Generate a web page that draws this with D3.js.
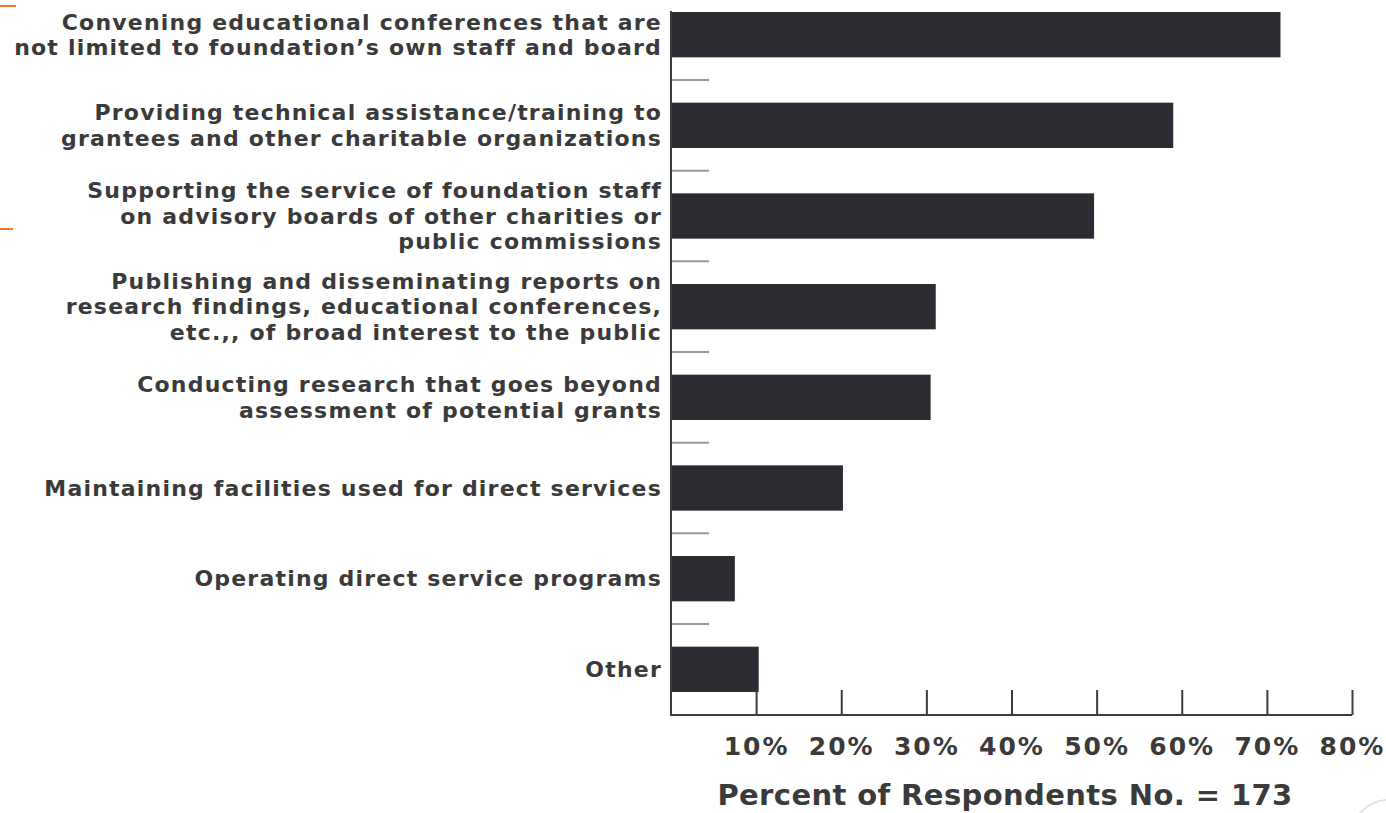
<!DOCTYPE html>
<html>
<head>
<meta charset="utf-8">
<script src="https://cdn.jsdelivr.net/npm/d3@7"></script>
<style>
  body { margin: 0; background: #fff; }
  svg { display: block; font-family: 'DejaVu Sans', sans-serif; }
</style>
</head>
<body>
<svg width="1386" height="813"></svg>
<script>
// categories, top to bottom (each entry = lines of the label)
const categories = [
    ['Convening educational conferences that are', 'not limited to foundation\u2019s own staff and board'],
    ['Providing technical assistance/training to', 'grantees and other charitable organizations'],
    ['Supporting the service of foundation staff', 'on advisory boards of other charities or', 'public commissions'],
    ['Publishing and disseminating reports on', 'research findings, educational conferences,', 'etc.,, of broad interest to the public'],
    ['Conducting research that goes beyond', 'assessment of potential grants'],
    ['Maintaining facilities used for direct services'],
    ['Operating direct service programs'],
    ['Other']
];
const values = [71.6, 59, 49.7, 31.1, 30.5, 20.2, 7.5, 10.3];
const tickValues = [10, 20, 30, 40, 50, 60, 70, 80];
const axisTitle = 'Percent of Respondents No. = 173';

const svg = d3.select('svg');

const x = d3.scaleLinear().domain([0, 80]).range([671, 1352]);
const y = d3.scaleBand()
    .domain(d3.range(categories.length))
    .range([12, 692])
    .paddingInner(0.5)
    .paddingOuter(0);

// decorative slide bits
svg.append('line').attr('x1', 0).attr('x2', 16).attr('y1', 6).attr('y2', 6)
    .attr('stroke', '#f07a2a').attr('stroke-width', 2);
svg.append('line').attr('x1', 0).attr('x2', 13).attr('y1', 229).attr('y2', 229)
    .attr('stroke', '#f07a2a').attr('stroke-width', 2);
svg.append('circle').attr('cx', 1388).attr('cy', 836).attr('r', 36)
    .attr('fill', 'none').attr('stroke', '#e4e4e4').attr('stroke-width', 2);

// bars
svg.selectAll('.bar')
    .data(values)
    .join('rect')
    .classed('bar', true)
    .attr('x', x(0))
    .attr('y', (d, i) => y(i))
    .attr('width', d => x(d) - x(0))
    .attr('height', y.bandwidth())
    .attr('fill', '#2b2d32');

// small separators between bars
svg.selectAll('.sep')
    .data(d3.range(1, categories.length))
    .join('line')
    .classed('sep', true)
    .attr('x1', x(0)).attr('x2', x(0) + 38)
    .attr('y1', i => y(i) - y.step() * y.paddingInner() / 2)
    .attr('y2', i => y(i) - y.step() * y.paddingInner() / 2)
    .attr('stroke', '#9a9a9a').attr('stroke-width', 2);

// y axis line
svg.append('line')
    .attr('x1', x(0)).attr('x2', x(0))
    .attr('y1', 11).attr('y2', 716)
    .attr('stroke', '#3c3c3c').attr('stroke-width', 2);

// x axis: ticks point up, labels below
const xAxis = svg.append('g')
    .attr('transform', 'translate(0,715)')
    .call(d3.axisTop(x).tickValues(tickValues).tickSize(25).tickSizeOuter(0).tickFormat(d => d + '%'));
xAxis.select('.domain').attr('stroke', '#3c3c3c').attr('stroke-width', 2)
    .attr('d', `M${x(0)},0H${x(80)}`);
xAxis.selectAll('.tick line').attr('stroke', '#3c3c3c').attr('stroke-width', 2);
xAxis.selectAll('.tick text')
    .attr('y', 40)
    .attr('dy', 0)
    .attr('fill', '#3a3a3a')
    .attr('font-size', 25)
    .attr('font-weight', 'bold')
    .attr('letter-spacing', 2)
    .attr('font-family', "'DejaVu Sans', sans-serif");

// category labels
const lineH = 25.5;
const labels = svg.selectAll('.cat')
    .data(categories)
    .join('text')
    .classed('cat', true)
    .attr('text-anchor', 'end')
    .attr('font-size', 22)
    .attr('font-weight', 'bold')
    .attr('letter-spacing', 1.2)
    .attr('fill', '#3a3a3a');
labels.each(function (lines, i) {
    const cy = y(i) + y.bandwidth() / 2;
    const top = cy - (lines.length - 1) * lineH / 2;
    d3.select(this).selectAll('tspan')
        .data(lines)
        .join('tspan')
        .attr('x', 662)
        .attr('y', (d, j) => top + j * lineH)
        .attr('dy', '0.35em')
        .text(d => d);
});

// axis title
svg.append('text')
    .attr('x', 1005)
    .attr('y', 805)
    .attr('text-anchor', 'middle')
    .attr('font-size', 29)
    .attr('font-weight', 'bold')
    .attr('letter-spacing', 0.4)
    .attr('fill', '#3a3a3a')
    .text(axisTitle);
</script>
</body>
</html>
